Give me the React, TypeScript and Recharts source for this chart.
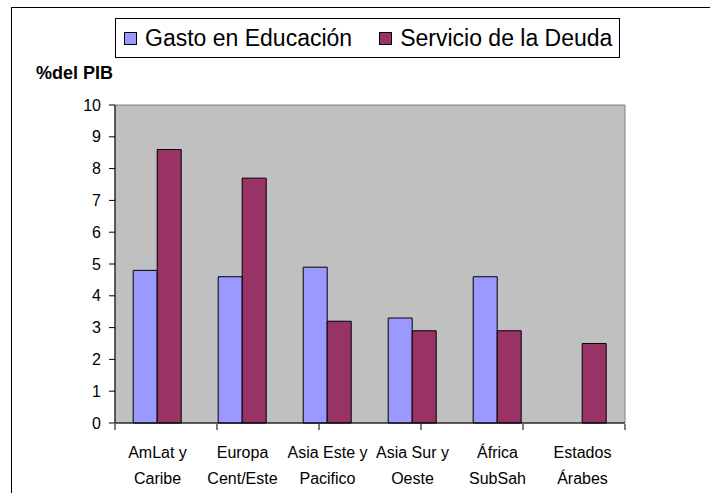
import React from 'react';
import { BarChart, Bar, XAxis, YAxis, Legend, ReferenceArea } from 'recharts';

const categories = ['AmLat y\nCaribe', 'Europa\nCent/Este', 'Asia Este y\nPacifico', 'Asia Sur y\nOeste', 'África\nSubSah', 'Estados\nÁrabes'];
const educacion: (number | null)[] = [4.8, 4.6, 4.9, 3.3, 4.6, null];
const deuda: number[] = [8.6, 7.7, 3.2, 2.9, 2.9, 2.5];
const yTicks = [0, 1, 2, 3, 4, 5, 6, 7, 8, 9, 10];
const edgeTicks = [0, 1, 2, 3, 4, 5, 6];
const seriesNames = ['Gasto en Educación', 'Servicio de la Deuda'];
const axisTitle = '%del PIB';

const data = categories.map((name, i) => ({ name, edu: educacion[i], deuda: deuda[i] }));

const FONT = '"Liberation Sans", Arial, sans-serif';

const CatTick = (props: any) => {
  const { x, y, payload } = props;
  const lines = String(payload.value).split('\n');
  return (
    <text x={x} y={y} textAnchor="middle" fontFamily={FONT} fontSize={16} fill="#000">
      {lines.map((l, i) => (
        <tspan key={i} x={x} dy={i === 0 ? 35 : 26}>{l}</tspan>
      ))}
    </text>
  );
};

const LegendBox = (props: any) => {
  const payload = props.payload || [];
  return (
    <div style={{ boxSizing: 'border-box', width: 505, height: 40, border: '1px solid #000', background: '#fff', display: 'flex', alignItems: 'center', fontFamily: FONT, fontSize: 23, color: '#000', paddingLeft: 8 }}>
      {payload.map((p: any, i: number) => (
        <div key={i} style={{ display: 'flex', alignItems: 'center', marginLeft: i === 0 ? 0 : 27 }}>
          <span style={{ boxSizing: 'border-box', display: 'inline-block', width: 13, height: 13, border: '1px solid #000', background: p.color, marginRight: 8 }} />
          <span style={{ whiteSpace: 'nowrap' }}>{p.value}</span>
        </div>
      ))}
    </div>
  );
};

export default function App() {
  return (
    <div style={{ position: 'absolute', left: 0, top: 0, width: 710, height: 493, overflow: 'hidden', background: '#fff' }}>
      <div style={{ position: 'absolute', left: 11, top: 7, width: 699, height: 486, borderLeft: '1px solid #000', borderTop: '1px solid #000' }} />
      <div style={{ position: 'absolute', left: 36, top: 63, fontFamily: FONT, fontSize: 18, fontWeight: 'bold', color: '#000', whiteSpace: 'nowrap' }}>{axisTitle}</div>
      <div style={{ position: 'absolute', left: 0, top: 0 }}>
        <BarChart width={710} height={493} data={data} margin={{ top: 105, right: 85, bottom: 68, left: 0 }} barCategoryGap="21.4%" barGap={0}>
          <ReferenceArea y1={0} y2={10} fill="#C0C0C0" fillOpacity={1} stroke="#808080" strokeWidth={1} />
          <XAxis dataKey="name" height={1} tickLine={false} tickSize={0} tickMargin={0} axisLine={{ stroke: '#000' }} tick={<CatTick />} interval={0} />
          <XAxis xAxisId="edge" type="number" domain={[0, 6]} ticks={edgeTicks} allowDataOverflow height={1} axisLine={false} tickLine={{ stroke: '#000' }} tickSize={6} tick={() => <g />} interval={0} />
          <YAxis domain={[0, 10]} ticks={yTicks} width={115} tickSize={6} tickMargin={8} interval={0} axisLine={{ stroke: '#000' }} tickLine={{ stroke: '#000' }} tick={{ fill: '#000', fontSize: 16, fontFamily: FONT }} />
          <Legend layout="horizontal" verticalAlign="middle" align="center" content={<LegendBox />} wrapperStyle={{ left: 115, top: 18, width: 505, height: 40 }} />
          <Bar dataKey="edu" name={seriesNames[0]} fill="#9999FF" stroke="#000" strokeWidth={1} isAnimationActive={false} />
          <Bar dataKey="deuda" name={seriesNames[1]} fill="#993366" stroke="#000" strokeWidth={1} isAnimationActive={false} />
        </BarChart>
      </div>
    </div>
  );
}
